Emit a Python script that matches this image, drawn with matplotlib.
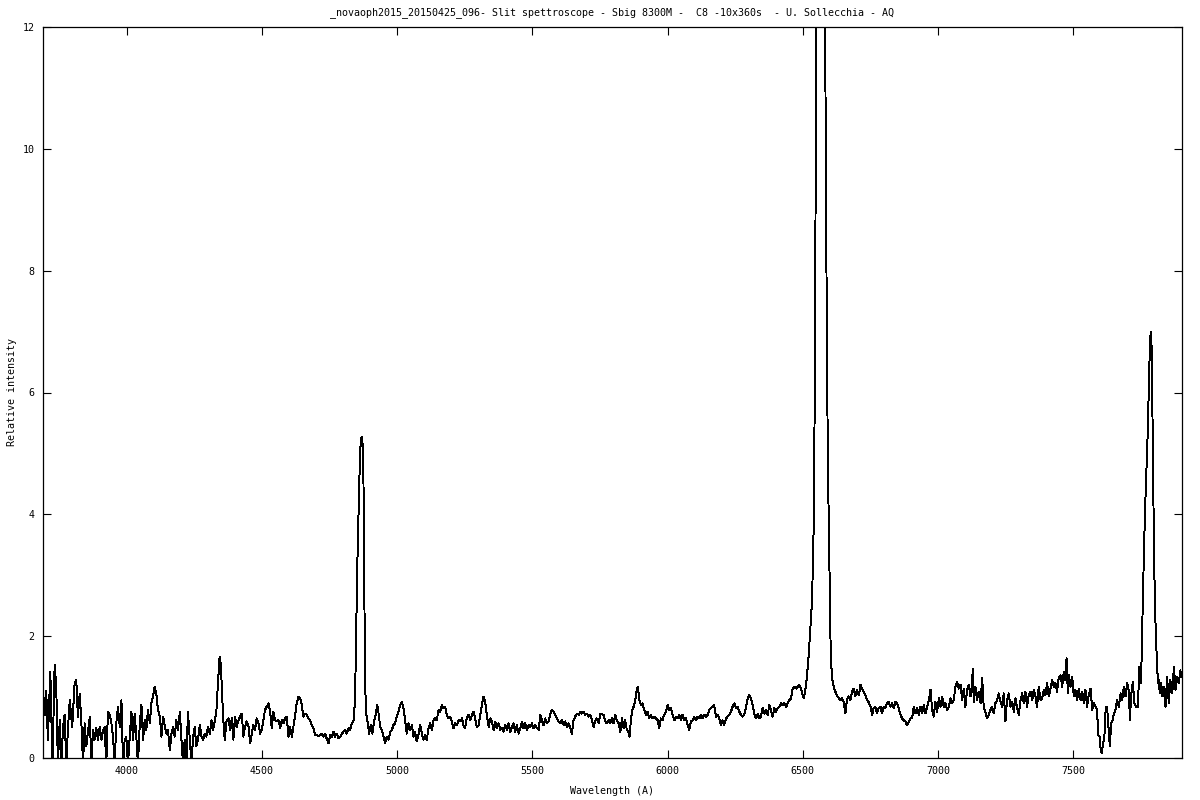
import matplotlib
matplotlib.use("Agg")
import matplotlib.pyplot as plt

title = "_novaoph2015_20150425_096- Slit spettroscope - Sbig 8300M -  C8 -10x360s  - U. Sollecchia - AQ"
x_label = "Wavelength (A)"
y_label = "Relative intensity"
x_ticks = [4000, 4500, 5000, 5500, 6000, 6500, 7000, 7500]
y_ticks = [0, 2, 4, 6, 8, 10, 12]

# segment: 3690 - 4343 (noisy blue end, H-gamma)
wl_blue = [3690,3696,3702,3708,3717,3725,3733,3739,3745,3752,3758,3764,3770,3776,3782,3789,3798,3807,3813,3819,
           3826,3832,3838,3844,3850,3863,3869,3875,3881,3887,3893,3900,3906,3912,3918,3924,3930,3937,3943,3949,
           3955,3961,3967,3974,3980,3986,3992,3998,4004,4011,4017,4023,4029,4035,4041,4048,4054,4060,4066,4072,
           4078,4085,4091,4097,4103,4109,4115,4122,4128,4134,4140,4146,4152,4159,4165,4171,4177,4183,4189,4196,
           4202,4208,4214,4220,4226,4233,4239,4245,4251,4257,4263,4270,4276,4282,4288,4294,4300,4307,4313,4319,
           4325,4331,4337,4343]
fx_blue = [1.14,0.70,1.10,0.30,1.42,-0.1,1.53,1.17,-0.1,0.62,-0.1,0.51,0.71,-0.1,0.46,0.95,0.51,1.23,1.28,0.68,
           1.06,0.57,-0.1,0.57,0.19,0.68,-0.1,0.46,0.30,0.49,0.30,0.51,0.30,0.46,0.51,-0.1,0.76,0.71,0.57,0.35,
           -0.1,0.57,0.84,0.51,0.95,-0.1,0.30,0.35,-0.1,0.35,0.76,0.30,0.73,0.35,-0.1,0.57,0.87,0.30,0.62,0.46,
           0.79,0.57,0.90,1.01,1.17,1.06,0.79,0.68,0.35,0.68,0.54,0.40,0.46,0.13,0.40,0.51,0.35,0.62,0.46,0.76,
           0.30,-0.1,0.30,-0.1,0.76,0.30,-0.1,0.35,0.51,0.19,0.30,0.54,0.35,0.30,0.40,0.35,0.51,0.40,0.62,0.46,
           0.60,0.76,1.23,1.66]

# segment: 4347 - 4838
wl_mid1 = [4347,4351,4356,4362,4369,4376,4382,4388,4394,4400,4406,4413,4419,4425,4431,4437,4443,4450,4456,4462,
           4468,4474,4480,4487,4493,4499,4505,4511,4517,4524,4530,4536,4542,4548,4554,4561,4567,4573,4579,4585,
           4591,4598,4604,4610,4616,4622,4628,4635,4641,4647,4653,4659,4665,4672,4678,4684,4690,4696,4702,4709,
           4715,4721,4727,4733,4739,4746,4752,4758,4764,4770,4776,4783,4789,4795,4801,4807,4813,4820,4826,4832,
           4838]
fx_mid1 = [1.55,1.20,0.68,0.30,0.62,0.65,0.46,0.65,0.30,0.68,0.51,0.62,0.68,0.73,0.35,0.51,0.60,0.51,0.24,0.40,
           0.54,0.46,0.65,0.57,0.40,0.46,0.62,0.79,0.84,0.90,0.76,0.49,0.76,0.62,0.60,0.62,0.49,0.62,0.57,0.65,
           0.68,0.35,0.51,0.35,0.51,0.68,0.90,1.01,0.98,0.87,0.68,0.73,0.71,0.65,0.62,0.54,0.49,0.38,0.38,0.36,
           0.38,0.40,0.35,0.40,0.32,0.24,0.38,0.35,0.43,0.35,0.40,0.32,0.35,0.40,0.43,0.46,0.40,0.49,0.46,0.57,
           0.60]

# segment: 4844 - 5745 (H-beta)
wl_mid2 = [4844,4848,4853,4857,4860,4864,4868,4871,4875,4878,4881,4885,4890,4896,4902,4908,4915,4921,4926,4931,
           4937,4943,4949,4955,4961,4968,4974,4980,4986,4992,4998,5005,5011,5017,5023,5029,5035,5042,5048,5054,
           5060,5066,5072,5079,5085,5091,5097,5103,5109,5116,5122,5128,5134,5140,5146,5153,5159,5165,5171,5177,
           5183,5190,5196,5202,5208,5214,5220,5227,5233,5239,5245,5251,5257,5264,5270,5276,5282,5288,5294,5301,
           5307,5313,5319,5325,5332,5338,5344,5350,5356,5362,5368,5375,5381,5387,5393,5399,5406,5412,5418,5424,
           5430,5436,5442,5449,5455,5461,5467,5473,5479,5486,5492,5498,5504,5510,5517,5523,5529,5535,5541,5547,
           5553,5560,5566,5572,5578,5584,5590,5597,5603,5609,5615,5621,5628,5634,5640,5646,5652,5658,5664,5671,
           5677,5683,5689,5695,5701,5708,5714,5720,5726,5732,5738,5745]
fx_mid2 = [0.95,2.05,3.30,4.02,4.59,5.11,5.27,5.25,4.59,2.87,1.23,0.73,0.60,0.40,0.54,0.40,0.62,0.73,0.87,0.73,
           0.51,0.46,0.35,0.24,0.35,0.30,0.43,0.46,0.54,0.57,0.68,0.76,0.87,0.92,0.82,0.62,0.40,0.57,0.46,0.54,
           0.35,0.43,0.27,0.40,0.54,0.40,0.30,0.38,0.30,0.49,0.57,0.46,0.62,0.65,0.62,0.79,0.76,0.87,0.82,0.84,
           0.71,0.65,0.68,0.60,0.49,0.57,0.54,0.62,0.60,0.65,0.54,0.49,0.65,0.71,0.62,0.71,0.76,0.65,0.51,0.54,
           0.71,0.87,1.01,0.92,0.68,0.51,0.65,0.60,0.46,0.60,0.49,0.57,0.46,0.49,0.43,0.54,0.46,0.57,0.43,0.51,
           0.57,0.43,0.54,0.40,0.49,0.60,0.49,0.57,0.46,0.54,0.51,0.57,0.49,0.54,0.49,0.46,0.71,0.62,0.54,0.65,
           0.57,0.60,0.73,0.79,0.76,0.71,0.65,0.60,0.57,0.62,0.54,0.60,0.51,0.57,0.49,0.40,0.62,0.68,0.73,0.71,
           0.76,0.73,0.76,0.71,0.73,0.68,0.71,0.62,0.51,0.60,0.65,0.57]

# segment: 5751 - 6780 (Na D, H-alpha)
wl_red1 = [5751,5763,5769,5775,5782,5788,5794,5800,5806,5812,5819,5825,5831,5837,5843,5849,5855,5859,5864,5869,
           5874,5880,5886,5890,5895,5901,5907,5913,5920,5926,5932,5938,5944,5950,5957,5963,5969,5975,5981,5987,
           5994,6000,6006,6012,6018,6025,6031,6037,6043,6049,6055,6061,6068,6074,6080,6086,6092,6098,6105,6111,
           6117,6123,6129,6136,6142,6148,6154,6160,6166,6172,6179,6185,6191,6197,6203,6209,6216,6222,6228,6234,
           6240,6247,6253,6259,6265,6271,6277,6283,6290,6296,6302,6308,6314,6321,6327,6333,6339,6345,6351,6357,
           6364,6370,6376,6382,6388,6395,6401,6407,6413,6419,6425,6432,6438,6444,6450,6456,6462,6469,6475,6481,
           6487,6493,6499,6504,6509,6515,6522,6528,6534,6540,6544,6547,6551,6557,6563,6570,6577,6582,6586,6592,
           6598,6603,6608,6614,6620,6626,6633,6639,6645,6651,6657,6663,6669,6676,6682,6688,6694,6700,6707,6713,
           6719,6725,6731,6737,6743,6750,6756,6762,6768,6774,6780]
fx_red1 = [0.73,0.71,0.60,0.57,0.62,0.57,0.65,0.57,0.71,0.62,0.57,0.43,0.65,0.49,0.62,0.46,0.43,0.35,0.62,0.79,
           0.84,0.95,1.12,1.17,0.95,0.87,0.90,0.79,0.71,0.76,0.65,0.71,0.65,0.68,0.65,0.62,0.49,0.65,0.62,0.71,
           0.76,0.87,0.79,0.82,0.71,0.62,0.68,0.65,0.71,0.62,0.71,0.62,0.65,0.54,0.46,0.60,0.62,0.68,0.62,0.68,
           0.65,0.71,0.65,0.71,0.68,0.71,0.79,0.82,0.84,0.87,0.68,0.71,0.65,0.54,0.62,0.54,0.65,0.68,0.71,0.76,
           0.84,0.90,0.82,0.84,0.76,0.71,0.68,0.71,0.84,0.98,1.03,0.98,0.87,0.71,0.65,0.73,0.65,0.68,0.82,0.73,
           0.79,0.71,0.87,0.79,0.68,0.82,0.76,0.82,0.84,0.90,0.87,0.90,0.84,0.90,0.95,0.98,1.14,1.17,1.14,1.17,
           1.20,1.14,1.03,0.98,1.12,1.33,1.72,2.16,2.59,3.80,6.00,9.20,14.5,18.0,19.5,18.0,15.0,12.4,8.80,5.00,
           3.20,1.70,1.30,1.17,1.09,1.03,0.98,0.95,0.98,0.92,0.73,0.95,1.01,0.95,1.09,1.14,1.01,1.12,1.03,1.20,
           1.14,1.09,1.03,0.95,0.92,0.84,0.71,0.82,0.84,0.73,0.82]

# segment: 6787 - 7900 (telluric A band, O I 7774)
wl_red2 = [6787,6793,6799,6805,6811,6817,6824,6830,6836,6842,6848,6854,6861,6867,6873,6879,6885,6892,6898,6904,
           6910,6916,6922,6929,6935,6941,6947,6953,6959,6966,6972,6978,6984,6990,6996,7003,7009,7015,7021,7027,
           7033,7040,7046,7052,7058,7064,7070,7077,7083,7089,7095,7101,7107,7114,7120,7126,7128,7132,7138,7144,
           7150,7157,7163,7169,7175,7181,7187,7194,7200,7206,7212,7218,7224,7231,7237,7243,7249,7255,7261,7268,
           7274,7280,7286,7292,7298,7305,7311,7317,7323,7329,7335,7342,7348,7354,7360,7366,7372,7379,7385,7391,
           7397,7403,7409,7416,7422,7428,7434,7440,7446,7453,7459,7465,7471,7475,7480,7484,7490,7496,7502,7508,
           7514,7520,7527,7533,7539,7545,7551,7557,7564,7570,7576,7582,7588,7592,7597,7600,7605,7610,7615,7620,
           7625,7630,7635,7640,7645,7650,7656,7662,7668,7675,7681,7687,7693,7699,7706,7709,7714,7720,7726,7732,
           7739,7744,7749,7753,7757,7761,7765,7770,7776,7781,7786,7789,7792,7795,7800,7804,7808,7813,7816,7820,
           7825,7830,7835,7841,7847,7853,7859,7866,7872,7878,7884,7890,7896,7900]
fx_red2 = [0.84,0.73,0.84,0.82,0.90,0.92,0.84,0.90,0.82,0.92,0.90,0.82,0.71,0.65,0.62,0.60,0.54,0.60,0.65,0.65,
           0.84,0.73,0.82,0.71,0.84,0.73,0.87,0.73,0.82,0.95,1.12,0.79,0.68,0.92,0.76,0.98,0.84,1.01,0.84,0.90,
           0.79,0.84,0.98,0.90,0.95,1.17,1.25,1.14,1.20,0.95,1.14,0.84,1.12,1.20,1.01,1.23,1.47,0.92,1.17,0.95,
           1.09,0.90,1.31,0.82,0.76,0.65,0.71,0.79,0.84,0.73,0.90,0.95,1.06,0.92,0.84,1.06,0.60,0.95,1.06,0.84,
           0.92,0.76,0.98,0.84,0.71,0.95,1.06,0.90,1.09,0.84,1.03,1.09,0.95,1.12,1.01,0.84,1.17,0.95,0.98,1.12,
           1.03,1.23,1.01,1.14,1.28,1.17,1.23,1.09,1.31,1.36,1.17,1.42,1.28,1.64,1.06,1.36,1.17,1.33,1.01,1.12,
           0.95,1.14,0.95,1.09,0.90,1.12,0.84,1.03,1.14,0.79,0.90,0.84,0.79,0.38,0.35,0.19,0.08,0.24,0.35,0.84,
           0.84,0.51,0.19,0.57,0.62,0.73,0.79,0.95,0.84,1.06,0.95,1.17,1.01,1.23,1.09,0.62,1.03,1.25,0.90,0.84,
           0.84,1.50,1.23,1.66,2.59,3.30,4.02,4.67,5.44,6.42,7.00,6.86,5.98,4.67,2.98,2.21,1.72,1.23,1.28,1.06,
           1.23,1.01,1.17,0.84,1.33,0.90,1.28,1.06,1.50,1.12,1.33,1.23,1.44,1.33]

wavelength = wl_blue + wl_mid1 + wl_mid2 + wl_red1 + wl_red2
intensity = fx_blue + fx_mid1 + fx_mid2 + fx_red1 + fx_red2

FONT = "DejaVu Sans Mono"
FS = 7.2

fig = plt.figure(figsize=(12, 8), dpi=100)
fig.patch.set_facecolor("white")
ax = fig.add_axes([43/1200, 42/800, (1182-43)/1200, (758-27)/800])
ax.plot(wavelength, intensity, color="black", lw=0.7, antialiased=False)
ax.set_xlim(3690, 7902)
ax.set_ylim(0, 12)
ax.set_xticks(x_ticks)
ax.set_yticks(y_ticks)
ax.set_xticklabels([str(v) for v in x_ticks], fontfamily=FONT, fontsize=FS)
ax.set_yticklabels([str(v) for v in y_ticks], fontfamily=FONT, fontsize=FS)
ax.tick_params(direction="in", length=6, width=0.8, top=True, right=True, pad=6)
for s in ax.spines.values():
    s.set_linewidth(0.9)
    s.set_color("black")

fig.text(612/1200, 1 - 13/800, title, ha="center", va="center", fontfamily=FONT, fontsize=FS)
fig.text(612/1200, 1 - 791/800, x_label, ha="center", va="center", fontfamily=FONT, fontsize=FS)
fig.text(12/1200, 1 - 392/800, y_label, ha="center", va="center", rotation=90, fontfamily=FONT, fontsize=FS)

fig.savefig("out.png", dpi=100, facecolor="white")
